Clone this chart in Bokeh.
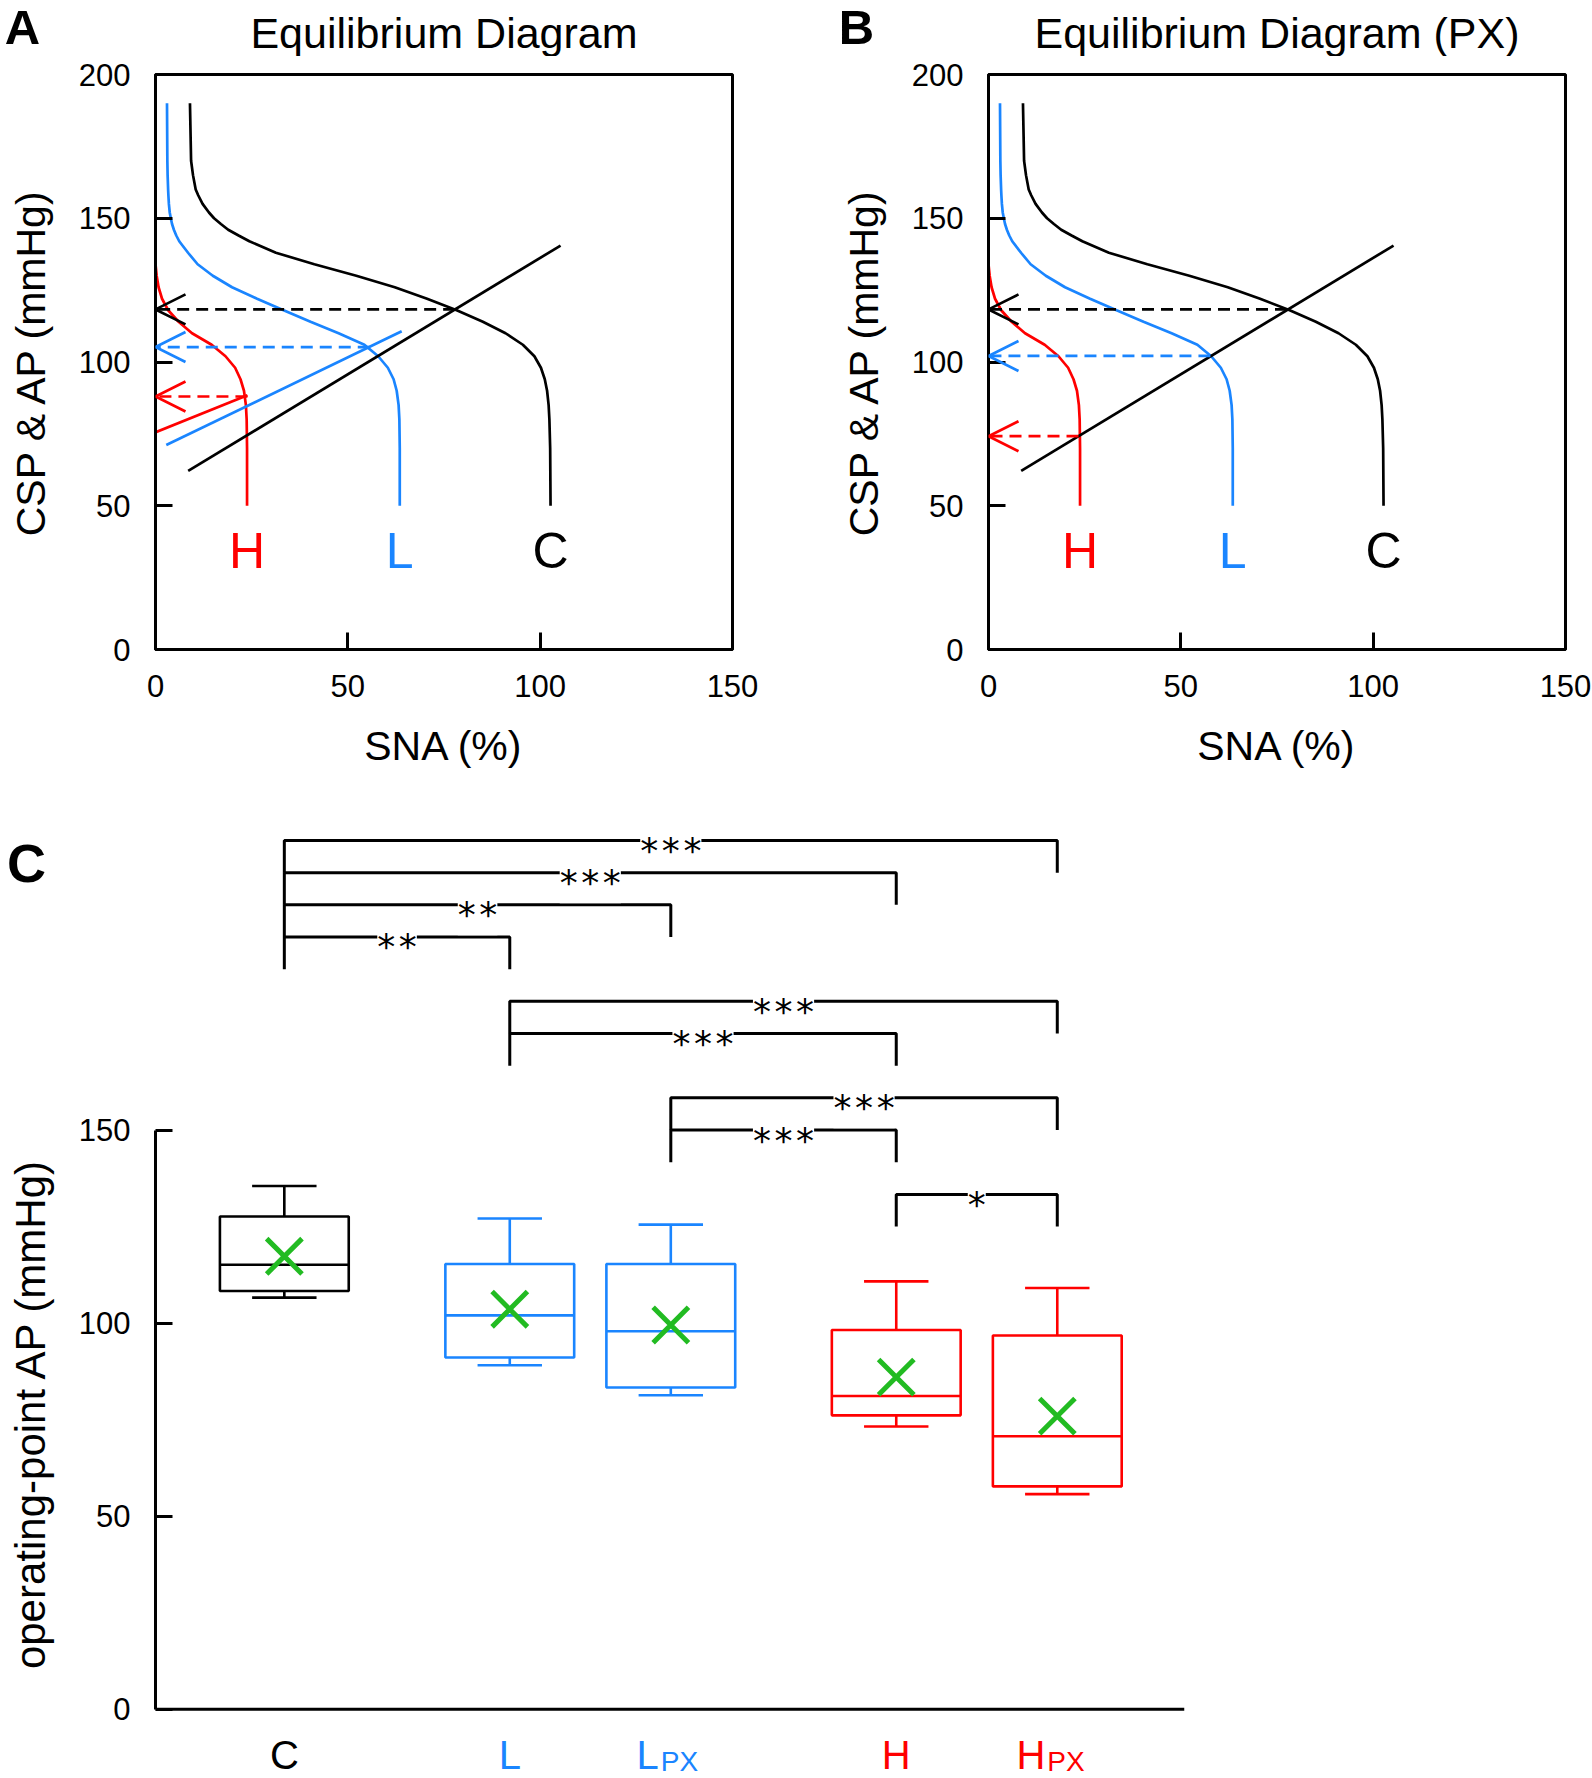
from math import pi
from bokeh.plotting import figure
from bokeh.models import Range1d, FixedTicker, Arrow, OpenHead, Span
from bokeh.layouts import row, column
from bokeh.embed import file_html
from bokeh.resources import INLINE
from bokeh.core.properties import value

FONT = "Liberation Sans"
BLACK = "#000000"
BLUE = "#1a85ff"
RED = "#ff0000"
GREEN = "#22bb22"

# ---------------- Panels A / B : equilibrium diagram ----------------
# neural arc: SNA (%) read at each CSP (mmHg)
csp_grid = [190, 170, 165, 160, 158, 155, 152, 150, 148, 146, 144, 142, 138, 134, 130,
            126, 122, 118, 114, 110, 106, 102, 98, 94, 90, 85, 80, 70, 50]
sna_C = [8.96, 9.25, 9.75, 10.45, 11.1, 12.24, 13.9, 15.22, 17.0, 18.9, 21.6, 24.4, 31.3,
         41.3, 52.2, 62.2, 70.6, 78.3, 85.1, 91.0, 95.5, 98.5, 100.2, 101.2, 101.8, 102.2,
         102.4, 102.6, 102.7]
sna_L = [2.99, 3.08, 3.15, 3.28, 3.35, 3.48, 3.7, 3.98, 4.3, 4.78, 5.4, 6.17, 8.46, 10.95,
         14.9, 19.9, 26.4, 33.3, 40.3, 47.6, 54.3, 57.9, 60.4, 61.9, 62.7, 63.2, 63.4, 63.5,
         63.5]
sna_H = [-0.5, -0.5, -0.5, -0.4, -0.4, -0.4, -0.3, -0.3, -0.3, -0.3, -0.2, -0.2, -0.1, 0.0,
         0.3, 0.8, 1.7, 3.3, 6.0, 9.5, 14.6, 18.2, 20.7, 22.1, 23.0, 23.5, 23.7, 23.8, 23.8]
curve_names = ["H", "L", "C"]

# peripheral arcs (SNA -> AP), end points
arcA_C_sna, arcA_C_ap = [8.5, 105.3], [62.1, 140.5]
arcA_L_sna, arcA_L_ap = [2.8, 64.0], [71.1, 110.7]
arcA_H_sna, arcA_H_ap = [-0.5, 23.9], [75.3, 88.4]
arcB_sna, arcB_ap = [8.5, 105.3], [62.1, 140.5]

# operating points (order C, L, H)
opA_sna, opA_ap = [77.9, 55.7, 23.9], [118.3, 105.2, 88.0]
opB_sna, opB_ap = [77.6, 57.7, 23.4], [118.3, 102.1, 74.2]

panel_titles = ["Equilibrium Diagram", "Equilibrium Diagram (PX)"]
panel_letters = ["A", "B", "C"]

# ---------------- Panel C : operating-point AP ----------------
groups = ["C", "L", "LPX", "H", "HPX"]
group_main = ["C", "L", "L", "H", "H"]
group_sub = ["", "", "PX", "", "PX"]
upper = [135.5, 127.1, 125.5, 110.8, 109.1]
q3 = [127.6, 115.3, 115.3, 98.2, 96.8]
median = [115.1, 102.0, 97.9, 81.1, 70.7]
q1 = [108.3, 91.1, 83.3, 76.1, 57.7]
lower = [106.6, 89.1, 81.3, 73.2, 55.7]
mean = [117.3, 103.6, 99.5, 86.0, 75.9]

comparisons = [("C", "HPX"), ("C", "H"), ("C", "LPX"), ("C", "L"),
               ("L", "HPX"), ("L", "H"), ("LPX", "HPX"), ("LPX", "H"), ("H", "HPX")]
stars = ["***", "***", "**", "**", "***", "***", "***", "***", "*"]
bracket_row = [0, 1, 2, 3, 5, 6, 8, 9, 11]


def style_axis(ax, ticks):
    ax.ticker = FixedTicker(ticks=ticks)
    ax.major_tick_in = 17
    ax.major_tick_out = 0
    ax.minor_tick_line_color = None
    ax.axis_line_width = 3
    ax.axis_line_color = "black"
    ax.major_tick_line_width = 3
    ax.major_tick_line_color = "black"
    ax.major_label_text_font = FONT
    ax.major_label_text_font_size = "31px"
    ax.major_label_text_color = "black"
    ax.major_label_standoff = 25
    ax.axis_label_text_font = FONT
    ax.axis_label_text_font_size = "41px"
    ax.axis_label_text_font_style = "normal"
    ax.axis_label_text_color = "black"


def strip(left, top, w, h, bt=0, bb=0):
    """blank figure: data coords = page px (y negated)"""
    s = figure(frame_width=w, frame_height=h,
               x_range=Range1d(left, left + w), y_range=Range1d(-(top + h), -top),
               x_axis_location=None, y_axis_location=None, min_border=0,
               min_border_top=bt, min_border_bottom=bb,
               output_backend="svg", toolbar_location=None)
    s.grid.visible = False
    s.outline_line_color = None
    return s


FW, FH = 577, 575
HDR = 56


def eq_panel(arcs, op_sna, op_ap, bl, br):
    p = figure(frame_width=FW, frame_height=FH,
               x_range=Range1d(0, 150), y_range=Range1d(0, 200),
               output_backend="svg", toolbar_location=None,
               min_border_left=bl, min_border_right=br,
               min_border_top=74 - HDR, min_border_bottom=141)
    p.grid.visible = False
    p.outline_line_color = "black"
    p.outline_line_width = 3
    p.outline_line_alpha = 1
    style_axis(p.xaxis[0], [0, 50, 100, 150])
    style_axis(p.yaxis[0], [0, 50, 100, 150, 200])
    p.xaxis.axis_label = "SNA (%)"
    p.xaxis.axis_label_standoff = 23
    p.yaxis.axis_label = "CSP & AP (mmHg)"
    p.yaxis.axis_label_standoff = 22

    for sna, col in zip([sna_H, sna_L, sna_C], [RED, BLUE, BLACK]):
        p.line(sna, csp_grid, line_color=col, line_width=2.7)
    for xs, ys, col in arcs:
        p.line(xs, ys, line_color=col, line_width=2.7)
    for xo, yo, col in zip(op_sna, op_ap, [BLACK, BLUE, RED]):
        p.add_layout(Arrow(x_start=xo, y_start=yo, x_end=0, y_end=yo,
                           line_color=col, line_width=2.7, line_dash="12 7",
                           end=OpenHead(size=30, line_color=col, line_width=2.7)))
    p.text(x=[sna_H[-1], sna_L[-1], sna_C[-1]], y=[34.3] * 3, text=curve_names,
           text_color=[RED, BLUE, BLACK], text_font=value(FONT),
           text_font_size="50px", text_align="center", text_baseline="alphabetic")
    return p


# header strip with panel letters and panel titles
hdr = strip(0, 0, 1592, HDR)
hdr.text(x=[22, 856], y=[-26.4, -26.4], text=panel_letters[:2], text_font=value(FONT),
         text_font_size="49px", text_font_style="bold", text_align="center",
         text_baseline="alphabetic", text_color="black")
hdr.text(x=[155 + FW / 2, 988 + FW / 2], y=[-32.5, -32.5], text=panel_titles,
         text_font=value(FONT), text_font_size="43px", text_align="center",
         text_baseline="alphabetic", text_color="black")

pA = eq_panel([(arcA_C_sna, arcA_C_ap, BLACK), (arcA_L_sna, arcA_L_ap, BLUE),
               (arcA_H_sna, arcA_H_ap, RED)],
              opA_sna, opA_ap, 155, 800 - 155 - FW)
pB = eq_panel([(arcB_sna, arcB_ap, BLACK)], opB_sna, opB_ap, 188, 792 - 188 - FW)

# positions of the five groups: step 1 inside a pair, 1.4 between pairs
pos = []
for i, g in enumerate(group_main):
    if i == 0:
        pos.append(0.0)
    elif g == group_main[i - 1]:
        pos.append(pos[-1] + 1.0)
    else:
        pos.append(pos[-1] + 1.4)
px = dict(zip(groups, pos))
colors = [BLACK if g == "C" else (BLUE if g == "L" else RED) for g in group_main]

sC = strip(0, 800, 70, 978, bt=10, bb=0)
sC.text(x=[26], y=[-862], text=[panel_letters[2]], text_font=value(FONT),
        text_font_size="54px", text_font_style="bold", text_align="center",
        text_baseline="alphabetic", text_color="black")
sC.text(x=[30], y=[-1413], text=["operating-point AP (mmHg)"], angle=pi / 2,
        text_font=value(FONT), text_font_size="42px", text_align="center",
        text_baseline="alphabetic", text_color="black")

pC = figure(frame_width=1029, frame_height=978,
            x_range=Range1d(-0.8, 5.59), y_range=Range1d(-17.95, 235.35),
            x_axis_location=None, output_backend="svg", toolbar_location=None,
            min_border_left=85, min_border_right=8, min_border_top=10,
            min_border_bottom=0)
pC.grid.visible = False
pC.outline_line_color = None
yax = pC.yaxis[0]
style_axis(yax, [0, 50, 100, 150])
yax.bounds = (0, 150)
pC.add_layout(Span(location=0, dimension="width", line_color="black", line_width=3))

bw, cw = 0.8, 0.4
pC.segment(x0=pos, y0=q3, x1=pos, y1=upper, line_color=colors, line_width=2.6)
pC.segment(x0=pos, y0=q1, x1=pos, y1=lower, line_color=colors, line_width=2.6)
pC.segment(x0=[x - cw / 2 for x in pos], y0=upper, x1=[x + cw / 2 for x in pos], y1=upper,
           line_color=colors, line_width=2.6)
pC.segment(x0=[x - cw / 2 for x in pos], y0=lower, x1=[x + cw / 2 for x in pos], y1=lower,
           line_color=colors, line_width=2.6)
pC.vbar(x=pos, width=bw, bottom=q1, top=q3, fill_color="white",
        line_color=colors, line_width=2.6)
pC.segment(x0=[x - bw / 2 for x in pos], y0=median, x1=[x + bw / 2 for x in pos], y1=median,
           line_color=colors, line_width=2.6)
pC.scatter(x=pos, y=mean, marker="x", size=50, line_color=GREEN, line_width=5)

# significance brackets
top_level, step = 225.0, 25.0 / 3
bx, by, sx, sy = [], [], [], []
for (a, b), r in zip(comparisons, bracket_row):
    lv = top_level - r * step
    bx.append([px[a], px[a], px[b], px[b]])
    by.append([lv - step, lv, lv, lv - step])
    sx.append((px[a] + px[b]) / 2)
    sy.append(lv)
pC.multi_line(bx, by, line_color="black", line_width=3)
pC.text(x=sx, y=sy, text=["\u200a".join(s) for s in stars],
        text_font=value("DejaVu Sans"), text_font_size="36px",
        text_align="center", text_baseline="alphabetic", y_offset=10,
        background_fill_color="white", text_color="black")

# category labels under the axis
main_off = [0 if s == "" else -12 for s in group_sub]
pC.text(x=pos, y=[-11.8] * 5, text=group_main, text_color=colors,
        text_font=value(FONT), text_font_size="40px",
        text_align=["center" if s == "" else "right" for s in group_sub],
        text_baseline="alphabetic", x_offset=main_off)
sub_idx = [i for i, s in enumerate(group_sub) if s]
pC.text(x=[pos[i] for i in sub_idx], y=[-11.8] * len(sub_idx),
        text=[group_sub[i] for i in sub_idx], text_color=[colors[i] for i in sub_idx],
        text_font=value(FONT), text_font_size="28px", text_align="left",
        text_baseline="alphabetic", x_offset=-10, y_offset=7)

layout = column(hdr, row(pA, pB), row(sC, pC))
open("out.html", "w").write(file_html(layout, INLINE))
